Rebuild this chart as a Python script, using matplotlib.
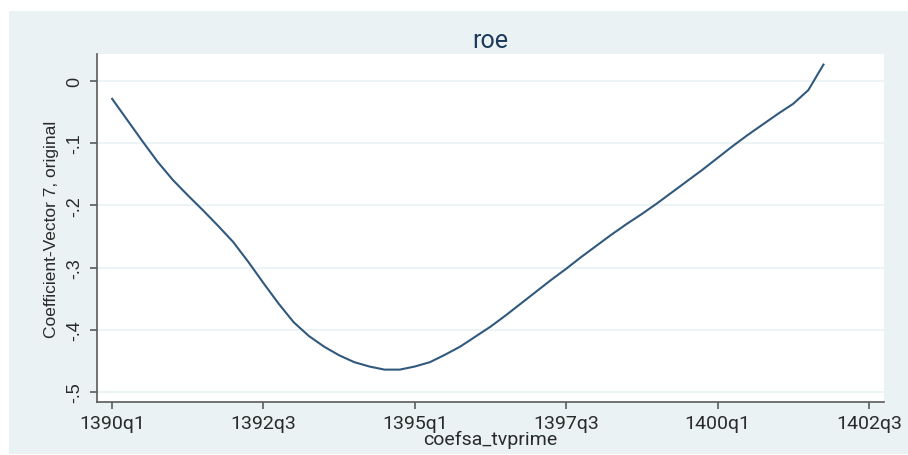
import numpy as np
import matplotlib.pyplot as plt
from matplotlib.patches import Rectangle

# quarterly coefficient path, 1390q1 .. 1401q4 (quarter index 0 = 1390q1)
quarter_idx = np.arange(48)
coef = [-0.029, -0.063, -0.097, -0.130, -0.159, -0.184, -0.208, -0.233,
        -0.259, -0.291, -0.325, -0.358, -0.388, -0.410, -0.427, -0.441,
        -0.452, -0.459, -0.464, -0.464, -0.459, -0.452, -0.440, -0.427,
        -0.411, -0.395, -0.377, -0.358, -0.339, -0.320, -0.302, -0.283,
        -0.265, -0.247, -0.230, -0.214, -0.197, -0.179, -0.161, -0.143,
        -0.124, -0.105, -0.087, -0.070, -0.053, -0.037, -0.015, 0.026]

xtick_pos = [0, 10, 20, 30, 40, 50]
xtick_labels = ["1390q1", "1392q3", "1395q1", "1397q3", "1400q1", "1402q3"]
ytick_pos = [0, -0.1, -0.2, -0.3, -0.4, -0.5]
ytick_labels = ["0", "-.1", "-.2", "-.3", "-.4", "-.5"]

bg = "#eaf2f3"
navy = "#1a476f"
axcol = "#5a5a5a"
narrow = ["Liberation Sans", "DejaVu Sans"]
wide = ["Roboto", "DejaVu Sans"]

fig = plt.figure(figsize=(9.08, 4.56), dpi=100)
fig.patches.append(Rectangle((9 / 908, 0.002), 1.0, 0.9737 - 0.002,
                             transform=fig.transFigure, facecolor=bg,
                             edgecolor="none", zorder=-5))

ax = fig.add_axes([97 / 908, 1 - 403 / 456, 787 / 908, 348 / 456])
ax.set_facecolor("white")
ax.plot(quarter_idx, coef, color=navy, lw=1.5, alpha=0.9,
        solid_joinstyle="round")

ax.set_xlim(-1, 51)
ax.set_ylim(-0.516, 0.043)

ax.set_yticks(ytick_pos)
ax.set_yticklabels(ytick_labels, rotation=90, va="center",
                   family=narrow, fontsize=13)
ax.set_xticks(xtick_pos)
ax.set_xticklabels(xtick_labels, family=wide, fontsize=14)

ax.grid(axis="y", color=bg, lw=1.2)
ax.set_axisbelow(True)
for s in ["top", "right"]:
    ax.spines[s].set_visible(False)
for s in ["left", "bottom"]:
    ax.spines[s].set_color(axcol)
    ax.spines[s].set_linewidth(1.2)
ax.tick_params(colors=axcol, length=5, width=1.2, labelcolor="#2a2a2a")
ax.tick_params(axis="y", pad=5)
ax.tick_params(axis="x", pad=4)

ax.set_ylabel("Coefficient-Vector 7, original", family=narrow,
              fontsize=12.5, color="#2a2a2a", labelpad=5)
ax.set_xlabel("coefsa_tvprime", family=wide, fontsize=14,
              color="#2a2a2a", labelpad=-2)
ax.set_title("roe", family=wide, fontsize=18, color="#1e3a5a", pad=5)

fig.savefig("out.png", dpi=100)
